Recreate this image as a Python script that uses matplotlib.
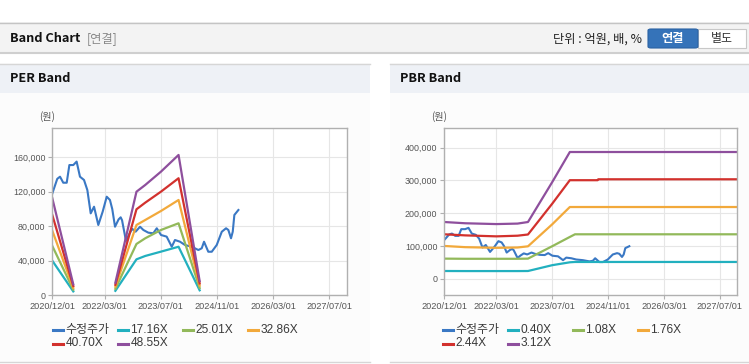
import numpy as np
import pandas as pd
import matplotlib
matplotlib.use('Agg')
import matplotlib.pyplot as plt
from matplotlib.patches import Rectangle, FancyBboxPatch
from matplotlib.lines import Line2D
from matplotlib.ticker import FuncFormatter

plt.rcParams['font.family'] = ['Liberation Sans', 'Noto Sans CJK KR', 'DejaVu Sans']

W, H = 749, 364

# ---- data ----
price_dates = ['2020-12-01', '2021-01-13', '2021-02-06', '2021-03-06', '2021-04-05', '2021-04-28',
               '2021-06-01', '2021-06-30', '2021-07-29', '2021-09-02', '2021-10-01', '2021-10-30',
               '2021-11-28', '2022-01-04', '2022-02-11', '2022-03-18', '2022-04-15', '2022-05-05',
               '2022-05-29', '2022-06-29', '2022-07-17', '2022-07-29', '2022-09-01', '2022-09-25',
               '2022-10-25', '2022-11-24', '2023-01-01', '2023-01-30', '2023-03-14', '2023-04-26',
               '2023-05-26', '2023-07-02', '2023-08-20', '2023-10-03', '2023-10-31', '2023-12-14',
               '2024-01-26', '2024-03-24', '2024-05-21', '2024-06-19', '2024-07-09', '2024-08-15',
               '2024-09-14', '2024-10-27', '2024-12-10', '2025-01-16', '2025-02-05', '2025-02-28',
               '2025-03-15', '2025-03-29', '2025-05-03']
price = [118000, 135000, 137500, 130500, 130500, 151000,
         151000, 155000, 137500, 133700, 122000, 95000,
         102700, 81500, 97000, 114300, 110500, 100000,
         79500, 88000, 90400, 87000, 63000, 70000,
         77000, 73800, 79500, 75700, 72600, 71900,
         77700, 69900, 68000, 56300, 64100, 62100,
         58300, 56300, 52500, 54500, 62100, 50500,
         50500, 58300, 73700, 77700, 75700, 66100,
         73700, 93100, 98900]

per_dates = ['2020-12-01', '2021-06-01', '2022-01-01', '2022-06-01', '2022-12-01',
             '2023-02-15', '2023-07-01', '2023-12-01', '2024-06-01']
per_17 = [40100, 4500, np.nan, 5200, 41700, 45600, 50600, 56300, 5800]
per_25 = [57200, 6500, np.nan, 7500, 59500, 66100, 75700, 83500, 8500]
per_32 = [74900, 8600, np.nan, 9900, 81500, 87300, 97700, 110500, 11200]
per_40 = [93100, 10700, np.nan, 12200, 99700, 107400, 120100, 135700, 13800]
per_48 = [112500, 12700, np.nan, 14600, 120100, 127900, 143300, 162700, 16500]
per_labels = ['수정주가', '17.16X', '25.01X', '32.86X', '40.70X', '48.55X']

pbr_dates = ['2020-12-01', '2021-06-01', '2022-03-01', '2022-09-01', '2022-12-01',
             '2023-07-01', '2023-12-01', '2024-01-15', '2024-07-30', '2024-08-05', '2027-12-31']
pbr_040 = [23200, 23000, 23000, 23000, 23200, 41000, 49800, 50800, 50800, 50800, 50800]
pbr_108 = [61000, 60500, 60500, 60500, 61000, 99000, 127200, 135300, 135300, 135300, 135300]
pbr_176 = [99700, 96000, 94000, 95000, 98600, 166000, 218600, 218600, 218600, 218600, 218600]
pbr_244 = [135300, 132000, 129000, 131000, 134700, 229000, 300500, 300500, 300500, 303300, 303300]
pbr_312 = [172800, 169000, 166500, 168000, 172800, 295000, 386600, 386600, 386600, 386600, 386600]
pbr_labels = ['수정주가', '0.40X', '1.08X', '1.76X', '2.44X', '3.12X']

xtick_labels = ['2020/12/01', '2022/03/01', '2023/07/01', '2024/11/01', '2026/03/01', '2027/07/01']
colors = ['#3a78c4', '#22b0bf', '#92b95a', '#f2a93b', '#d2312d', '#8e4f9d']


def fx(x):
    return x / W


def fy(y):
    return 1 - y / H


def box(fig, x0, y0, x1, y1, **kw):
    r = Rectangle((fx(x0), fy(y1)), fx(x1) - fx(x0), fy(y0) - fy(y1),
                  transform=fig.transFigure, zorder=-10, **kw)
    fig.patches.append(r)
    return r


def hline(fig, x0, x1, y, color, lw=1):
    fig.lines.append(Line2D([fx(x0), fx(x1)], [fy(y), fy(y)], transform=fig.transFigure,
                            color=color, lw=lw, zorder=-5))


def legend_rows(fig, x0, y0, labels):
    for i, lab in enumerate(labels):
        cx = x0 + (i % 4) * 65
        cy = y0 + (i // 4) * 13.5
        fig.lines.append(Line2D([fx(cx), fx(cx + 10)], [fy(cy), fy(cy)],
                                transform=fig.transFigure, color=colors[i], lw=2.2))
        fig.text(fx(cx + 12.5), fy(cy), lab, fontsize=8.6, color='#3a3a3a',
                 va='center', ha='left')


def setup_axes(ax, ylim, yticks):
    xt = pd.to_datetime(xtick_labels, format='%Y/%m/%d')
    ax.set_xlim(pd.Timestamp('2020-12-01'), pd.Timestamp('2027-12-01'))
    ax.set_xticks(xt)
    ax.set_xticklabels(xtick_labels)
    ax.set_ylim(*ylim)
    ax.set_yticks(yticks)
    ax.yaxis.set_major_formatter(FuncFormatter(lambda v, p: f'{int(v):,}'))
    ax.grid(True, color='#e6e6e6', lw=0.8)
    ax.set_axisbelow(True)
    ax.set_facecolor('white')
    for s in ax.spines.values():
        s.set_color('#b0b0b0')
        s.set_linewidth(1)
    ax.tick_params(axis='both', length=3, width=0.8, color='#b0b0b0',
                   labelcolor='#555555', pad=2)
    ax.tick_params(axis='x', labelsize=6.6)
    ax.tick_params(axis='y', labelsize=6.4)


fig = plt.figure(figsize=(W / 100, H / 100), dpi=100)
fig.patch.set_facecolor('white')

# header bar
box(fig, 0, 22, W, 53, facecolor='#f3f3f3', edgecolor='none')
hline(fig, 0, W, 22.5, '#c4c4c4')
hline(fig, 0, W, 53, '#cfcfcf', lw=1.5)
fig.text(fx(10), fy(39), 'Band Chart', fontsize=9.2, fontweight='bold', color='#111111',
         va='center', family=['Noto Sans CJK KR'])
fig.text(fx(87), fy(39), '[연결]', fontsize=8.8, color='#888888', va='center',
         family=['Noto Sans CJK KR'])
fig.text(fx(553), fy(39), '단위 : 억원, 배, %', fontsize=8.8, color='#222222', va='center',
         family=['Noto Sans CJK KR'])
btn = FancyBboxPatch((fx(648), fy(48)), fx(698) - fx(648), fy(29) - fy(48),
                     boxstyle='round,pad=0,rounding_size=0.004', transform=fig.transFigure,
                     facecolor='#3573b9', edgecolor='#2b62a3', lw=0.8)
fig.patches.append(btn)
box(fig, 698, 29, 746, 48, facecolor='white', edgecolor='#c8c8c8', lw=0.8)
fig.text(fx(673), fy(38.5), '연결', fontsize=8.8, fontweight='bold', color='white',
         ha='center', va='center', family=['Noto Sans CJK KR'])
fig.text(fx(722), fy(38.5), '별도', fontsize=8.6, color='#333333',
         ha='center', va='center', family=['Noto Sans CJK KR'])

# panels
for (px0, px1, title) in [(0, 370, 'PER Band'), (390, W, 'PBR Band')]:
    box(fig, px0, 63, px1, 362, facecolor='#fcfcfc', edgecolor='none')
    box(fig, px0, 64, px1, 93, facecolor='#eef1f6', edgecolor='none')
    hline(fig, px0, px1, 63.5, '#d6d6d6')
    hline(fig, px0, px1, 362, '#d6d6d6')
    fig.text(fx(px0 + 10), fy(78.5), title, fontsize=9.2, fontweight='bold', color='#111111',
             va='center', family=['Noto Sans CJK KR'])

# PER chart
ax1 = fig.add_axes([fx(52.3), fy(295.3), fx(347) - fx(52.3), fy(128.3) - fy(295.3)])
setup_axes(ax1, (0, 193600), [0, 40000, 80000, 120000, 160000])
pdts = pd.to_datetime(per_dates)
ax1.plot(pd.to_datetime(price_dates), price, color=colors[0], lw=1.5, label=per_labels[0])
for series, c, lab in zip([per_17, per_25, per_32, per_40, per_48], colors[1:], per_labels[1:]):
    ax1.plot(pdts, series, color=c, lw=1.6, label=lab)
fig.text(fx(47), fy(117), '(원)', fontsize=7.2, color='#555555', ha='center', va='center',
         family=['Noto Sans CJK KR'])
legend_rows(fig, 53, 330, per_labels)

# PBR chart
ax2 = fig.add_axes([fx(444.3), fy(295.3), fx(737.3) - fx(444.3), fy(128.3) - fy(295.3)])
setup_axes(ax2, (-51000, 459000), [0, 100000, 200000, 300000, 400000])
bdts = pd.to_datetime(pbr_dates)
ax2.plot(pd.to_datetime(price_dates), price, color=colors[0], lw=1.5, label=pbr_labels[0])
for series, c, lab in zip([pbr_040, pbr_108, pbr_176, pbr_244, pbr_312], colors[1:], pbr_labels[1:]):
    ax2.plot(bdts, series, color=c, lw=1.6, label=lab)
fig.text(fx(439), fy(117), '(원)', fontsize=7.2, color='#555555', ha='center', va='center',
         family=['Noto Sans CJK KR'])
legend_rows(fig, 443, 330, pbr_labels)

fig.savefig('out.png', dpi=100, facecolor='white')
